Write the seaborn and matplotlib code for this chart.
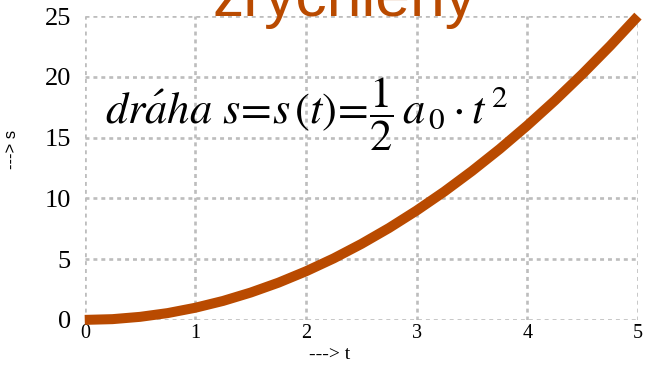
import seaborn as sns
import matplotlib.pyplot as plt
import pandas as pd

sns.set_style("white")
plt.rcParams['mathtext.fontset'] = 'stix'
plt.rcParams['text.color'] = 'black'

t = [0, 0.25, 0.5, 0.75, 1, 1.25, 1.5, 1.75, 2, 2.25, 2.5, 2.75, 3, 3.25, 3.5, 3.75, 4, 4.25, 4.5, 4.75, 5]
s = [0, 0.06, 0.25, 0.56, 1, 1.56, 2.25, 3.06, 4, 5.06, 6.25, 7.56, 9, 10.56, 12.25, 14.06, 16, 18.06, 20.25, 22.56, 25]
xticks = [0, 1, 2, 3, 4, 5]
yticks = [0, 5, 10, 15, 20, 25]

df = pd.DataFrame({"t": t, "s": s})
orange = '#b94a00'

fig = plt.figure(figsize=(6.47, 3.66), dpi=100)
ax = fig.add_axes([0.131, 0.126, 0.855, 0.830])

sns.lineplot(data=df, x="t", y="s", ax=ax, color=orange, linewidth=7.2, solid_capstyle='butt', clip_on=False, zorder=3)

ax.set_xlim(0, 5)
ax.set_ylim(0, 25)
ax.set_xticks(xticks)
ax.set_yticks(yticks)
ax.grid(True, color='#bdbdbd', linestyle=(0, (1.5, 1.5)), linewidth=1.9)
for sp in ax.spines.values():
    sp.set_visible(False)

ax.tick_params(axis='y', length=0, pad=10, colors='black')
ax.tick_params(axis='x', length=0, pad=3, colors='black')
for lab in ax.get_yticklabels():
    lab.set_fontfamily('Liberation Serif')
    lab.set_fontsize(19)
for lab in ax.get_xticklabels():
    lab.set_fontfamily('Liberation Serif')
    lab.set_fontsize(14.5)

ax.set_xlabel('---> t', fontfamily='Liberation Serif', fontsize=14, color='black')
ax.xaxis.set_label_coords(0.442, -0.085)
ax.set_ylabel('---> s', fontfamily='Liberation Sans', fontsize=12, color='black')
ax.yaxis.set_label_coords(-0.118, 0.56)

fig.text(0.532, 0.956, 'zrychlený', color=orange, fontsize=45, fontfamily='Liberation Sans', ha='center', va='baseline')

ax.text(0.036, 0.645, r'$dr\acute{a}ha\ s\!=\!s\,(t)\!=\!\dfrac{1}{2}\,a_{\,0}\cdot t^{\,2}$',
        transform=ax.transAxes, fontsize=32, va='baseline', ha='left', color='black')

fig.savefig('out.png', dpi=100)
